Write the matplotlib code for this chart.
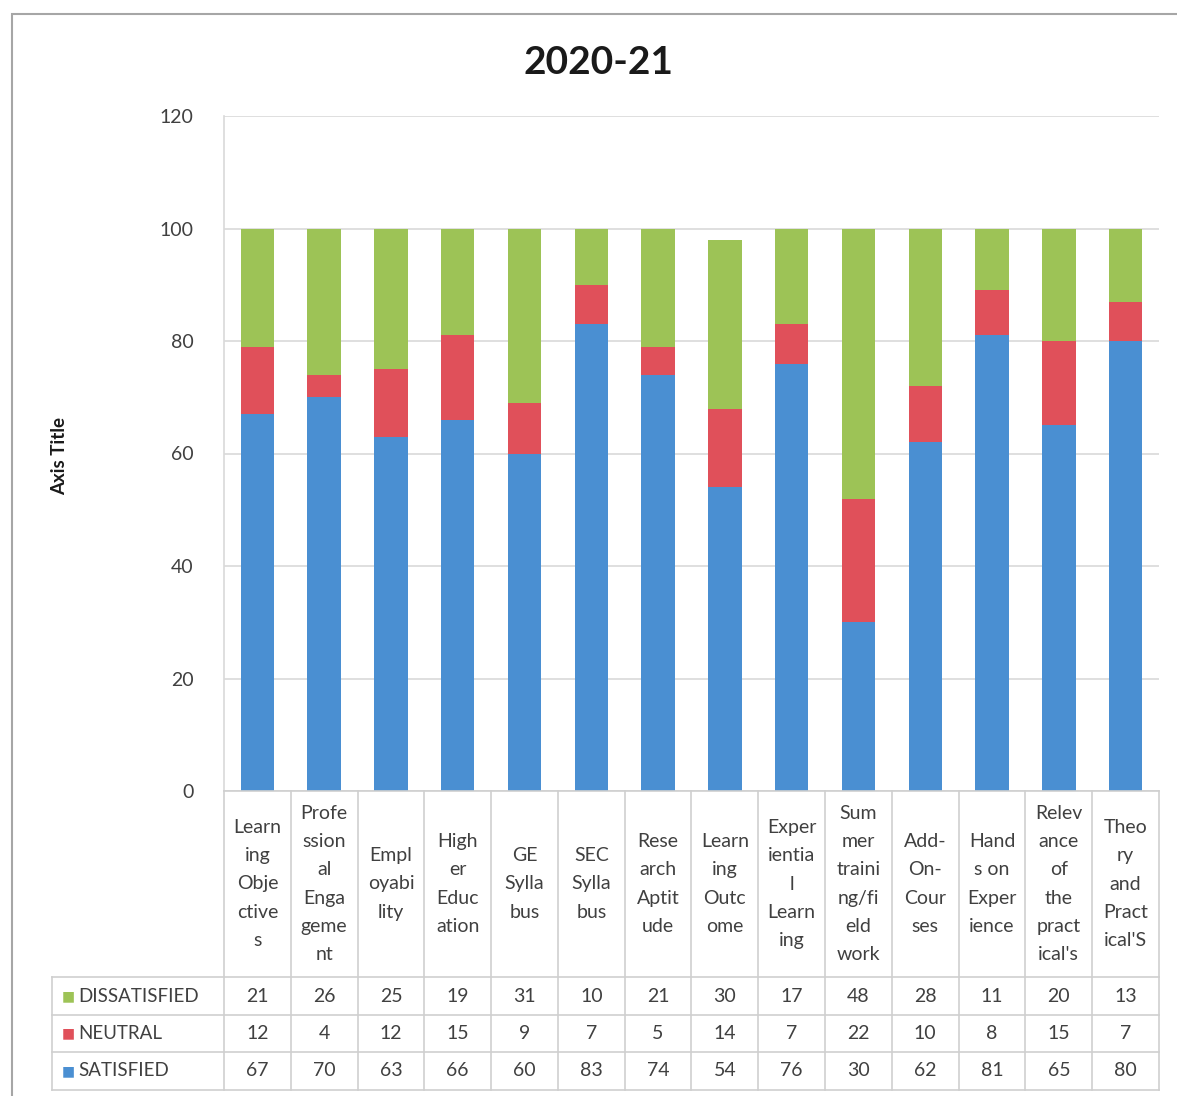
import matplotlib
matplotlib.use("Agg")
import matplotlib.pyplot as plt
from matplotlib.patches import Rectangle
from matplotlib.lines import Line2D

plt.rcParams['font.family'] = ['Lato', 'DejaVu Sans']

categories = [
    "Learn\ning\nObje\nctive\ns", "Profe\nssion\nal\nEnga\ngeme\nnt", "Empl\noyabi\nlity",
    "High\ner\nEduc\nation", "GE\nSylla\nbus", "SEC\nSylla\nbus", "Rese\narch\nAptit\nude",
    "Learn\ning\nOutc\nome", "Exper\nientia\nl\nLearn\ning", "Sum\nmer\ntraini\nng/fi\neld\nwork",
    "Add-\nOn-\nCour\nses", "Hand\ns on\nExper\nience", "Relev\nance\nof\nthe\npract\nical's",
    "Theo\nry\nand\nPract\nical'S",
]
satisfied = [67, 70, 63, 66, 60, 83, 74, 54, 76, 30, 62, 81, 65, 80]
neutral = [12, 4, 12, 15, 9, 7, 5, 14, 7, 22, 10, 8, 15, 7]
dissatisfied = [21, 26, 25, 19, 31, 10, 21, 30, 17, 48, 28, 11, 20, 13]
series_names = ["DISSATISFIED", "NEUTRAL", "SATISFIED"]
yticks = [0, 20, 40, 60, 80, 100, 120]
title = "2020-21"

c_sat = "#4A8FD2"
c_neu = "#E0505A"
c_dis = "#9DC356"
grid_c = "#D9D9D9"
text_c = "#404040"

W, H = 1177, 1096
fig = plt.figure(figsize=(W / 100, H / 100), dpi=100)

def fx(px):
    return px / W

def fy(py):
    return 1 - py / H

# outer chart frame
fig.patches.append(Rectangle((fx(12), -0.05), 1.2, fy(14) + 0.05, transform=fig.transFigure,
                             fill=False, edgecolor="#A6A6A6", linewidth=1.5))

left, right, y0px, ytop = 224, 1159, 791, 116
ax = fig.add_axes([fx(left), fy(y0px), fx(right) - fx(left), fy(ytop) - fy(y0px)])
n = len(categories)
x = list(range(n))
bw = 0.5
ax.bar(x, satisfied, width=bw, color=c_sat, zorder=3)
ax.bar(x, neutral, width=bw, bottom=satisfied, color=c_neu, zorder=3)
bot2 = [s + m for s, m in zip(satisfied, neutral)]
ax.bar(x, dissatisfied, width=bw, bottom=bot2, color=c_dis, zorder=3)
ax.set_xlim(-0.5, n - 0.5)
ax.set_ylim(0, 120)
ax.set_yticks(yticks)
ax.set_yticklabels([str(t) for t in yticks], fontsize=14, color=text_c)
ax.tick_params(axis='y', length=0, pad=22)
ax.set_xticks([])
ax.grid(axis='y', color=grid_c, linewidth=1.2, zorder=0)
for s in ['top', 'right', 'bottom']:
    ax.spines[s].set_visible(False)
ax.spines['left'].set_color(grid_c)
ax.spines['left'].set_linewidth(1.2)
fig.text(fx(598), fy(62), title, fontsize=28, fontweight='bold', color="#1a1a1a",
         ha='center', va='center')
fig.text(fx(60), fy(456), "Axis Title", rotation=90, fontsize=13.5, fontweight='bold',
         ha='center', va='center', color="#1a1a1a")

# data table
rows_px = [791, 977, 1015, 1052, 1090]
tab = fig.add_axes([fx(left), fy(1092), fx(right) - fx(left), fy(y0px) - fy(1092)])
tab.set_xlim(-0.5, n - 0.5)
tab.set_ylim(1092, y0px)
tab.axis('off')
unit_px = (right - left) / n
leg_left = -0.5 - (left - 52) / unit_px
lc = "#CFCFCF"
for yy in rows_px:
    xs = leg_left if yy != 791 else -0.5
    tab.add_line(Line2D([xs, n - 0.5], [yy, yy], color=lc, linewidth=1.2, clip_on=False))
for i in range(n + 1):
    tab.add_line(Line2D([i - 0.5, i - 0.5], [791, 1090], color=lc, linewidth=1.2, clip_on=False))
tab.add_line(Line2D([leg_left, leg_left], [977, 1090], color=lc, linewidth=1.2, clip_on=False))

for i, cat in enumerate(categories):
    tab.text(i, 884, cat, ha='center', va='center', fontsize=14, color=text_c,
             linespacing=1.8, clip_on=False)

table_rows = [dissatisfied, neutral, satisfied]
colors = [c_dis, c_neu, c_sat]
for r, (vals, name, col) in enumerate(zip(table_rows, series_names, colors)):
    yc = (rows_px[r + 1] + rows_px[r + 2]) / 2
    for i, v in enumerate(vals):
        tab.text(i, yc, str(v), ha='center', va='center', fontsize=14, color=text_c, clip_on=False)
    tab.text(leg_left + 0.24, yc, "\u25A0", ha='center', va='center', fontsize=10, color=col,
             clip_on=False)
    tab.text(leg_left + 0.40, yc, name, ha='left', va='center', fontsize=13.5, color=text_c,
             clip_on=False)

fig.savefig("out.png", dpi=100)
